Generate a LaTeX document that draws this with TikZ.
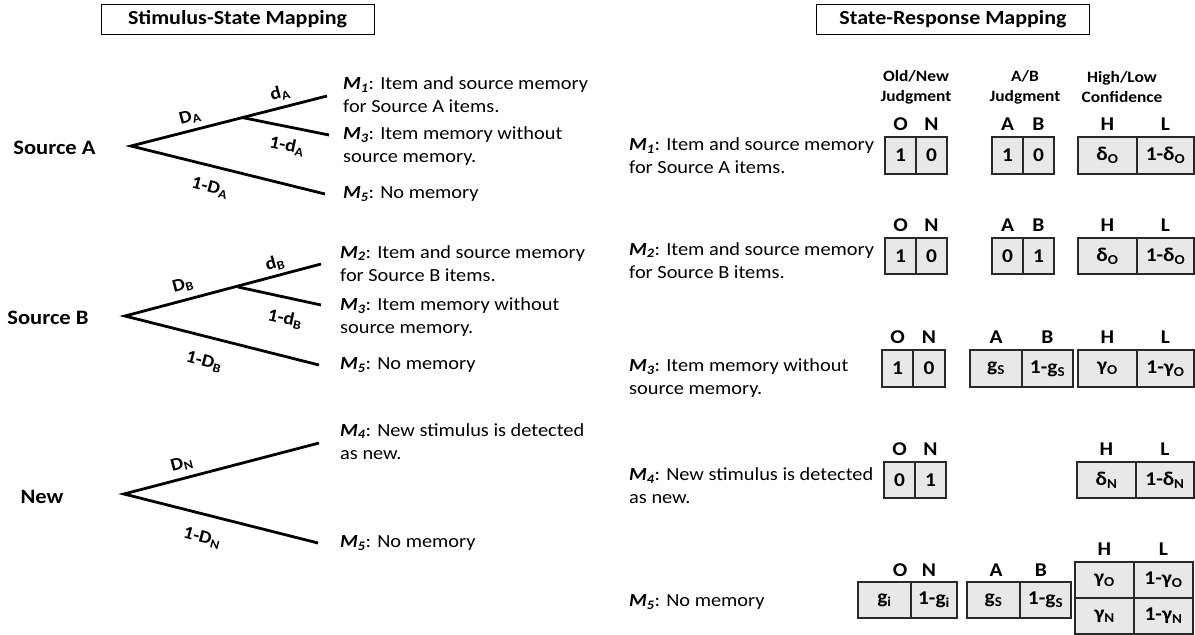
\documentclass[tikz,border=0pt]{standalone}
\usepackage{fontspec}
\setmainfont{Carlito}[FakeStretch=1.1]
\definecolor{cellgray}{RGB}{232,232,232}
\definecolor{cellline}{RGB}{40,40,40}
\newcommand\mlab[1]{\textbf{\textit{M\textsubscript{#1}}}}
\begin{document}
\begin{tikzpicture}[x=1pt,y=-1pt,
  branch/.style={line width=2.8pt, line join=miter},
  titlebox/.style={draw, line width=1pt, minimum width=273pt, minimum height=30pt, inner sep=0pt, font=\bfseries\fontsize{20}{22}\selectfont},
  src/.style={inner sep=0pt, font=\bfseries\fontsize{20.5}{23}\selectfont},
  tlab/.style={inner sep=0pt, font=\bfseries\fontsize{18}{19}\selectfont},
  mtext/.style={anchor=west, align=left, inner sep=0pt, font=\fontsize{18.5}{23}\selectfont},
  colhdr/.style={align=center, inner sep=0pt, font=\bfseries\fontsize{15.8}{20}\selectfont},
  hdr/.style={anchor=base, inner sep=0pt, font=\bfseries\fontsize{19.5}{20}\selectfont},
  cell/.style={draw=cellline, fill=cellgray, line width=1.2pt, inner sep=0pt, font=\bfseries\fontsize{19.5}{20}\selectfont}
]
\useasboundingbox (0,0) rectangle (1195,635);

% ---------------- titles
\node[titlebox] (t1) at (237.5,19) {Stimulus-State Mapping};
\node[titlebox] (t2) at (953,19) {State-Response Mapping};

% ---------------- tree A
\node[src] (srcA) at (54.5,148) {Source A};
\coordinate (rA) at (131,146);
\coordinate (sA) at (242,117.5);
\coordinate (eA1) at (327,96);
\coordinate (eA3) at (329,135);
\coordinate (eA5) at (325,194);
\draw[branch] (eA1) -- (rA) -- (eA5);
\draw[branch] (sA) -- (eA3);
\node[tlab, rotate=15] (lDA) at (190,117) {D\textsubscript{A}};
\node[tlab, rotate=15] (ldA) at (280,93) {d\textsubscript{A}};
\node[tlab, rotate=-12] (l1dA) at (287,146) {1-d\textsubscript{A}};
\node[tlab, rotate=-15] (l1DA) at (210,188) {1-D\textsubscript{A}};
\node[mtext] (mA1) at (343,95) {\mlab{1}: Item and source memory\\for Source A items.};
\node[mtext] (mA3) at (343,146) {\mlab{3}: Item memory without\\source memory.};
\node[mtext] (mA5) at (343,194) {\mlab{5}: No memory};

% ---------------- tree B
\node[src] (srcB) at (48,318) {Source B};
\coordinate (rB) at (125,316);
\coordinate (sB) at (238,287);
\coordinate (eB2) at (321,264);
\coordinate (eB3) at (321,305);
\coordinate (eB5) at (319,365);
\draw[branch] (eB2) -- (rB) -- (eB5);
\draw[branch] (sB) -- (eB3);
\node[tlab, rotate=15] (lDB) at (183,285) {D\textsubscript{B}};
\node[tlab, rotate=15] (ldB) at (275,263) {d\textsubscript{B}};
\node[tlab, rotate=-12] (l1dB) at (285,319) {1-d\textsubscript{B}};
\node[tlab, rotate=-15] (l1DB) at (204,362) {1-D\textsubscript{B}};
\node[mtext] (mB2) at (340,263.5) {\mlab{2}: Item and source memory\\for Source B items.};
\node[mtext] (mB3) at (340,317) {\mlab{3}: Item memory without\\source memory.};
\node[mtext] (mB5) at (340,365) {\mlab{5}: No memory};

% ---------------- tree New
\node[src] (srcN) at (42,497) {New};
\coordinate (rN) at (124,494);
\coordinate (eN4) at (319,443);
\coordinate (eN5) at (318,543);
\draw[branch] (eN4) -- (rN) -- (eN5);
\node[tlab, rotate=15] (lDN) at (182,464) {D\textsubscript{N}};
\node[tlab, rotate=-15] (l1DN) at (202,538) {1-D\textsubscript{N}};
\node[mtext] (mN4) at (340,441.5) {\mlab{4}: New stimulus is detected\\as new.};
\node[mtext] (mN5) at (340,543) {\mlab{5}: No memory};

% ---------------- column headers
\node[colhdr] (hON) at (916,87) {Old/New\\Judgment};
\node[colhdr] (hAB) at (1025,87) {A/B\\Judgment};
\node[colhdr] (hHL) at (1122,87) {High/Low\\Confidence};

% ---------------- row 1
\node[mtext] (r1t) at (629,156) {\mlab{1}: Item and source memory\\for Source A items.};
\node[cell, minimum width=31, minimum height=37] (c1o) at (900.5,155.5) {1};
\node[cell, minimum width=31, minimum height=37] (c1n) at (931.5,155.5) {0};
\node[cell, minimum width=31, minimum height=37] (c1a) at (1007.5,155.5) {1};
\node[cell, minimum width=31, minimum height=37] (c1b) at (1038.5,155.5) {0};
\node[cell, minimum width=59, minimum height=37] (c1h) at (1107.5,155.5) {δ\textsubscript{O}};
\node[cell, minimum width=57, minimum height=37] (c1l) at (1165.5,155.5) {1-δ\textsubscript{O}};
\foreach \c/\t in {c1o/O,c1n/N,c1a/A,c1b/B,c1h/H,c1l/L}
  \node[hdr] at ([yshift=6pt]\c.north) {\t};

% ---------------- row 2
\node[mtext] (r2t) at (629,260.5) {\mlab{2}: Item and source memory\\for Source B items.};
\node[cell, minimum width=31, minimum height=36] (c2o) at (900.5,256) {1};
\node[cell, minimum width=31, minimum height=36] (c2n) at (931.5,256) {0};
\node[cell, minimum width=31, minimum height=36] (c2a) at (1007.5,256) {0};
\node[cell, minimum width=31, minimum height=36] (c2b) at (1038.5,256) {1};
\node[cell, minimum width=59, minimum height=36] (c2h) at (1107.5,256) {δ\textsubscript{O}};
\node[cell, minimum width=57, minimum height=36] (c2l) at (1165.5,256) {1-δ\textsubscript{O}};
\foreach \c/\t in {c2o/O,c2n/N,c2a/A,c2b/B,c2h/H,c2l/L}
  \node[hdr] at ([yshift=6pt]\c.north) {\t};

% ---------------- row 3
\node[mtext] (r3t) at (629,378) {\mlab{3}: Item memory without\\source memory.};
\node[cell, minimum width=31, minimum height=37] (c3o) at (897.5,368.5) {1};
\node[cell, minimum width=32, minimum height=37] (c3n) at (929,368.5) {0};
\node[cell, minimum width=52, minimum height=37] (c3a) at (996,368.5) {g\textsubscript{S}};
\node[cell, minimum width=51, minimum height=37] (c3b) at (1047.5,368.5) {1-g\textsubscript{S}};
\node[cell, minimum width=59, minimum height=37] (c3h) at (1107.5,368.5) {γ\textsubscript{O}};
\node[cell, minimum width=57, minimum height=37] (c3l) at (1165.5,368.5) {1-γ\textsubscript{O}};
\foreach \c/\t in {c3o/O,c3n/N,c3a/A,c3b/B,c3h/H,c3l/L}
  \node[hdr] at ([yshift=6pt]\c.north) {\t};

% ---------------- row 4
\node[mtext] (r4t) at (629,486) {\mlab{4}: New stimulus is detected\\as new.};
\node[cell, minimum width=31, minimum height=36] (c4o) at (899.5,480) {0};
\node[cell, minimum width=31, minimum height=36] (c4n) at (930.5,480) {1};
\node[cell, minimum width=59, minimum height=36] (c4h) at (1106.5,480) {δ\textsubscript{N}};
\node[cell, minimum width=58, minimum height=36] (c4l) at (1165,480) {1-δ\textsubscript{N}};
\foreach \c/\t in {c4o/O,c4n/N,c4h/H,c4l/L}
  \node[hdr] at ([yshift=6pt]\c.north) {\t};

% ---------------- row 5
\node[mtext] (r5t) at (629,602) {\mlab{5}: No memory};
\node[cell, minimum width=53, minimum height=36] (c5o) at (884.5,600) {g\textsubscript{i}};
\node[cell, minimum width=46, minimum height=36] (c5n) at (934,600) {1-g\textsubscript{i}};
\node[cell, minimum width=53, minimum height=36] (c5a) at (993.5,600) {g\textsubscript{S}};
\node[cell, minimum width=51, minimum height=36] (c5b) at (1045.5,600) {1-g\textsubscript{S}};
\node[cell, minimum width=59, minimum height=36] (c5h) at (1104.5,580) {γ\textsubscript{O}};
\node[cell, minimum width=59, minimum height=36] (c5l) at (1163.5,580) {1-γ\textsubscript{O}};
\node[cell, minimum width=59, minimum height=36] (c5hn) at (1104.5,616) {γ\textsubscript{N}};
\node[cell, minimum width=59, minimum height=36] (c5ln) at (1163.5,616) {1-γ\textsubscript{N}};
\node[hdr] (h5o) at (900,576) {O};
\node[hdr] (h5n) at (929,576) {N};
\node[hdr] (h5a) at (996,576) {A};
\node[hdr] (h5b) at (1041,576) {B};
\node[hdr] (h5h) at ([yshift=6pt]c5h.north) {H};
\node[hdr] (h5l) at ([yshift=6pt]c5l.north) {L};
\end{tikzpicture}
\end{document}
